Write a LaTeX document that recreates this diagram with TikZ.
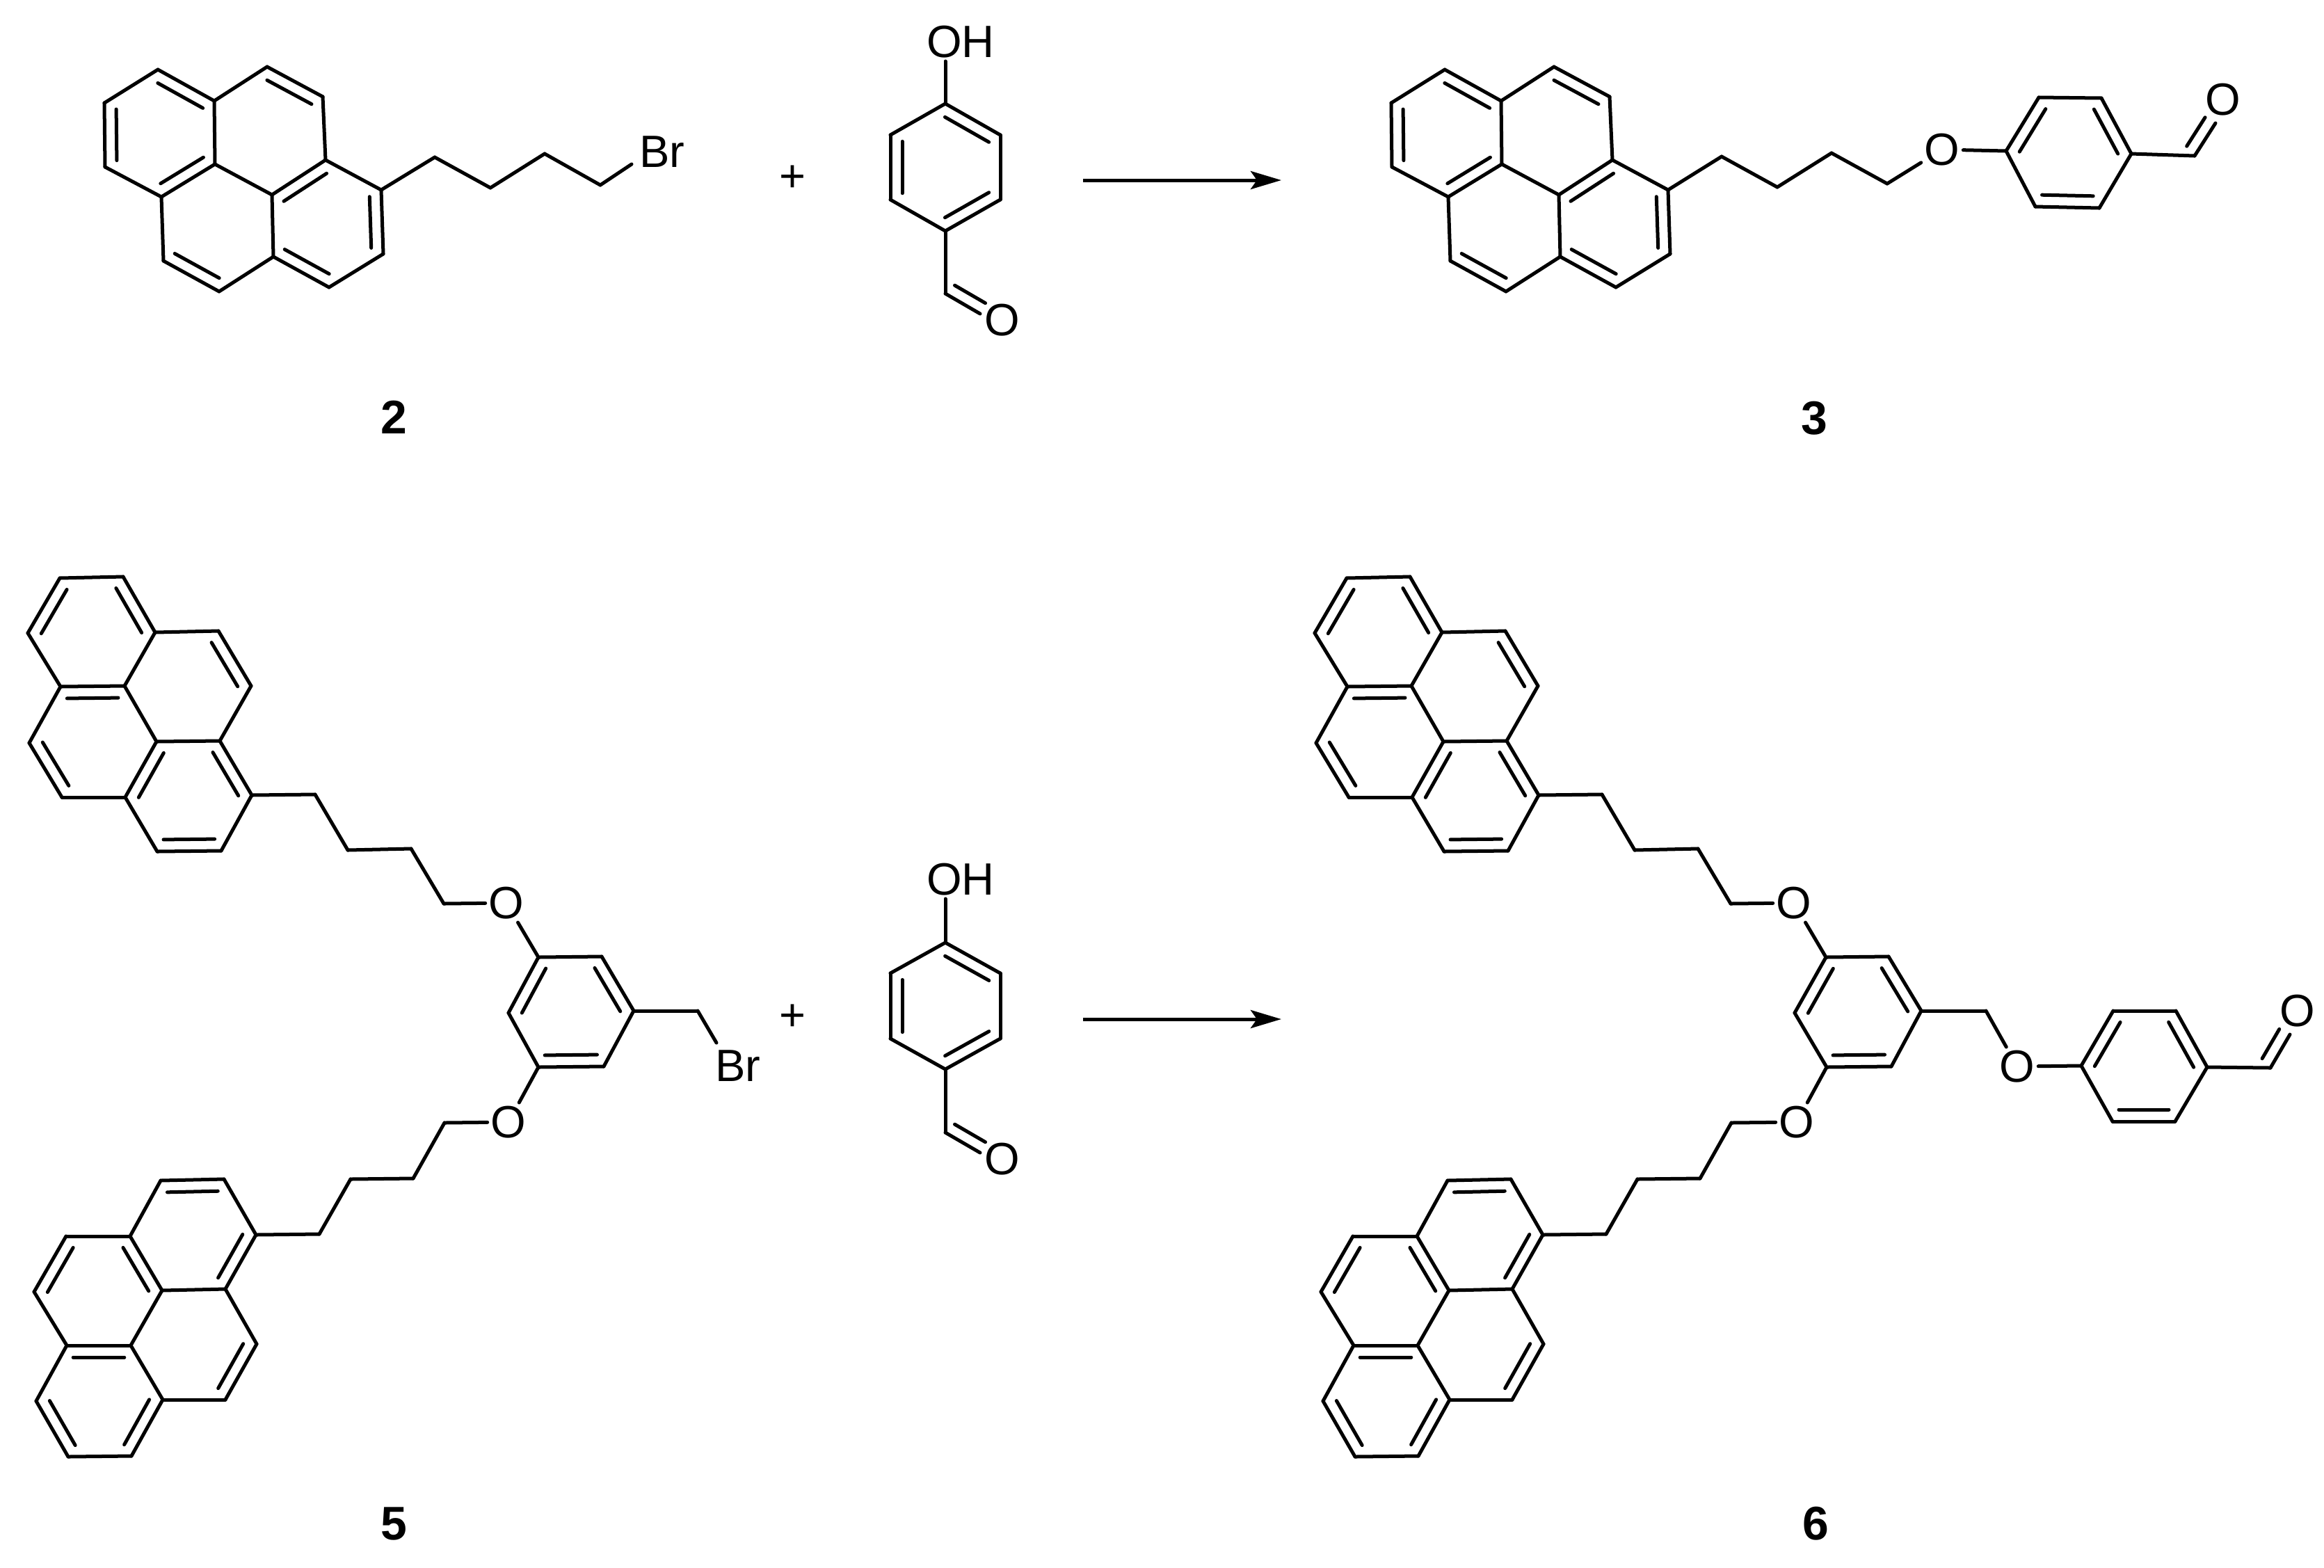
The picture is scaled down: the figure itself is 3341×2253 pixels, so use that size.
\documentclass[tikz,border=0pt]{standalone}
\usepackage{fontspec}
\setmainfont{Liberation Sans}
\usepackage{xcolor}
\usepackage{tikz}
\usetikzlibrary{calc}
\usetikzlibrary{arrows.meta}
\tikzstyle{Atom}=[inner sep=0pt,outer sep=0pt,minimum size=0pt]
\tikzstyle{Edge}=[draw=black,line cap=round,line width=0.05cm]
\tikzstyle{NodeAt}=[inner sep=0.05cm,outer sep=0pt,font=\fontsize{18.5}{20}\selectfont]
\tikzstyle{NodeNum}=[inner sep=0pt,font=\fontsize{19.3}{21}\selectfont\bfseries]
\newcommand{\InBond}[3][.9]{\draw[Edge]($(#2)!.1!(#3)!0.17cm!90:(#3)$)--($(#2)!#1!(#3)!0.17cm!90:(#3)$);}
\newcommand{\PyreneEdges}[1]{
            \draw[Edge](#1a)--(#1b);
            \draw[Edge](#1a)--(#1e);
            \draw[Edge](#1b)--(#1c);
            \draw[Edge](#1c)--(#1d);
            \draw[Edge](#1d)--(#1f);
            \draw[Edge](#1d)--(#1p);
            \draw[Edge](#1e)--(#1f);
            \draw[Edge](#1e)--(#1g);
            \draw[Edge](#1f)--(#1j);
            \draw[Edge](#1g)--(#1h);
            \draw[Edge](#1h)--(#1i);
            \draw[Edge](#1i)--(#1j);
            \draw[Edge](#1i)--(#1k);
            \draw[Edge](#1j)--(#1n);
            \draw[Edge](#1k)--(#1l);
            \draw[Edge](#1l)--(#1m);
            \draw[Edge](#1m)--(#1n);
            \draw[Edge](#1n)--(#1o);
            \draw[Edge](#1o)--(#1p);
}
\begin{document}
\begin{tikzpicture}[x=.01cm,y=-.01cm]
            \useasboundingbox(0,0)rectangle(3341,2253);
            % compound 2
            \node[Atom](2a)at(227,100){};
            \node[Atom](2b)at(150,148){};
            \node[Atom](2c)at(151,240){};
            \node[Atom](2d)at(232,283){};
            \node[Atom](2e)at(308,145){};
            \node[Atom](2f)at(309,236){};
            \node[Atom](2g)at(384,96){};
            \node[Atom](2h)at(464,139){};
            \node[Atom](2i)at(468,230){};
            \node[Atom](2j)at(391,280){};
            \node[Atom](2k)at(548,273){};
            \node[Atom](2l)at(551,365){};
            \node[Atom](2m)at(473,413){};
            \node[Atom](2n)at(393,369){};
            \node[Atom](2o)at(315,419){};
            \node[Atom](2p)at(235,375){};
            \PyreneEdges{2}
            \InBond{2e}{2a}
            \InBond{2b}{2c}
            \InBond{2d}{2f}
            \InBond{2h}{2g}
            \InBond{2i}{2j}
            \InBond{2n}{2m}
            \InBond{2l}{2k}
            \InBond{2p}{2o}
            \node[Atom](2s1)at(625,226){};
            \node[Atom](2s2)at(705,270){};
            \node[Atom](2s3)at(783,221){};
            \node[Atom](2s4)at(863,266){};
            \node[Atom](2x)at(908,236){};
            \node[NodeAt](2Br)at(952,218){Br};
            \draw[Edge](2k)--(2s1);
            \draw[Edge](2s1)--(2s2);
            \draw[Edge](2s2)--(2s3);
            \draw[Edge](2s3)--(2s4);
            \draw[Edge](2s4)--(2x);
            \node[NodeNum](n2)at(566,600){2};
            % phenol, first row
            \node[NodeAt](p1OH)at(1381,60){OH};
            \node[Atom](p1a)at(1359,149){};
            \node[Atom](p1b)at(1280,194){};
            \node[Atom](p1c)at(1280,287){};
            \node[Atom](p1d)at(1359,332){};
            \node[Atom](p1e)at(1438,287){};
            \node[Atom](p1f)at(1438,194){};
            \node[Atom](p1g)at(1359,422){};
            \node[Atom](p1x)at(1409,451){};
            \node[NodeAt](p1O)at(1441,460){O};
            \draw[Edge](p1a|-p1OH.south)--(p1a);
            \draw[Edge](p1a)--(p1b);
            \draw[Edge](p1b)--(p1c);
            \draw[Edge](p1c)--(p1d);
            \draw[Edge](p1d)--(p1e);
            \draw[Edge](p1e)--(p1f);
            \draw[Edge](p1f)--(p1a);
            \draw[Edge](p1d)--(p1g);
            \draw[Edge](p1g)--(p1x);
            \InBond{p1f}{p1a}
            \InBond{p1b}{p1c}
            \InBond{p1d}{p1e}
            \InBond[.98]{p1g}{p1x}
            \node[NodeAt](pl1)at(1139,257){+};
            \node[Atom](ar1)at(1557,259){};
            \node[Atom](ar2)at(1842,259){};
            \draw[Edge,line cap=butt,-{Stealth[length=0.44cm,width=0.26cm,inset=0.09cm]}](ar1)--(ar2);
            % compound 3
            \node[Atom](3a)at(2077,100){};
            \node[Atom](3b)at(2000,148){};
            \node[Atom](3c)at(2001,240){};
            \node[Atom](3d)at(2082,283){};
            \node[Atom](3e)at(2158,145){};
            \node[Atom](3f)at(2159,236){};
            \node[Atom](3g)at(2234,96){};
            \node[Atom](3h)at(2314,139){};
            \node[Atom](3i)at(2318,230){};
            \node[Atom](3j)at(2241,280){};
            \node[Atom](3k)at(2398,273){};
            \node[Atom](3l)at(2401,365){};
            \node[Atom](3m)at(2323,413){};
            \node[Atom](3n)at(2243,369){};
            \node[Atom](3o)at(2165,419){};
            \node[Atom](3p)at(2085,375){};
            \PyreneEdges{3}
            \InBond{3e}{3a}
            \InBond{3b}{3c}
            \InBond{3d}{3f}
            \InBond{3h}{3g}
            \InBond{3i}{3j}
            \InBond{3n}{3m}
            \InBond{3l}{3k}
            \InBond{3p}{3o}
            \node[Atom](3s1)at(2475,225){};
            \node[Atom](3s2)at(2555,269){};
            \node[Atom](3s3)at(2633,220){};
            \node[Atom](3s4)at(2713,264){};
            \node[NodeAt](3O1)at(2792,215){O};
            \node[Atom](3r1)at(2884,217){};
            \node[Atom](3r2)at(2931,140){};
            \node[Atom](3r3)at(3021,141){};
            \node[Atom](3r4)at(3064,221){};
            \node[Atom](3r5)at(3018,299){};
            \node[Atom](3r6)at(2926,297){};
            \node[Atom](3g1)at(3155,224){};
            \node[Atom](3x)at(3185,177){};
            \node[NodeAt](3O2)at(3196,143){O};
            \draw[Edge](3k)--(3s1);
            \draw[Edge](3s1)--(3s2);
            \draw[Edge](3s2)--(3s3);
            \draw[Edge](3s3)--(3s4);
            \draw[Edge](3s4)--(3O1);
            \draw[Edge](3O1)--(3r1);
            \draw[Edge](3r1)--(3r2);
            \draw[Edge](3r2)--(3r3);
            \draw[Edge](3r3)--(3r4);
            \draw[Edge](3r4)--(3r5);
            \draw[Edge](3r5)--(3r6);
            \draw[Edge](3r6)--(3r1);
            \draw[Edge](3r4)--(3g1);
            \draw[Edge](3g1)--(3x);
            \InBond{3r2}{3r1}
            \InBond{3r4}{3r3}
            \InBond{3r6}{3r5}
            \InBond[.98]{3g1}{3x}
            \node[NodeNum](n3)at(2608,601){3};
            % compound 5
            \node[Atom](5ua)at(177,829){};
            \node[Atom](5ub)at(86,831){};
            \node[Atom](5uc)at(40,910){};
            \node[Atom](5ud)at(87,987){};
            \node[Atom](5ue)at(223,909){};
            \node[Atom](5uf)at(179,986){};
            \node[Atom](5ug)at(314,907){};
            \node[Atom](5uh)at(361,986){};
            \node[Atom](5ui)at(316,1065){};
            \node[Atom](5uj)at(225,1066){};
            \node[Atom](5uk)at(362,1143){};
            \node[Atom](5ul)at(318,1223){};
            \node[Atom](5um)at(226,1224){};
            \node[Atom](5un)at(180,1146){};
            \node[Atom](5uo)at(89,1146){};
            \node[Atom](5up)at(42,1068){};
            \PyreneEdges{5u}
            \InBond{5ub}{5uc}
            \InBond{5ue}{5ua}
            \InBond{5uh}{5ug}
            \InBond{5uf}{5ud}
            \InBond{5up}{5uo}
            \InBond{5uj}{5un}
            \InBond{5uk}{5ui}
            \InBond{5um}{5ul}
            \node[Atom](5la)at(189,2093){};
            \node[Atom](5lb)at(98,2094){};
            \node[Atom](5lc)at(52,2014){};
            \node[Atom](5ld)at(96,1934){};
            \node[Atom](5le)at(234,2012){};
            \node[Atom](5lf)at(188,1934){};
            \node[Atom](5lg)at(324,2012){};
            \node[Atom](5lh)at(369,1932){};
            \node[Atom](5li)at(324,1853){};
            \node[Atom](5lj)at(233,1855){};
            \node[Atom](5lk)at(368,1775){};
            \node[Atom](5ll)at(322,1695){};
            \node[Atom](5lm)at(231,1697){};
            \node[Atom](5ln)at(187,1777){};
            \node[Atom](5lo)at(95,1777){};
            \node[Atom](5lp)at(49,1857){};
            \PyreneEdges{5l}
            \InBond{5ll}{5lm}
            \InBond{5lo}{5lp}
            \InBond{5lj}{5ln}
            \InBond{5li}{5lk}
            \InBond{5lf}{5ld}
            \InBond{5lg}{5lh}
            \InBond{5lc}{5lb}
            \InBond{5la}{5le}
            \node[Atom](5us1)at(453,1142){};
            \node[Atom](5us2)at(500,1222){};
            \node[Atom](5us3)at(591,1220){};
            \node[Atom](5us4)at(638,1299){};
            \node[NodeAt](5uO)at(728,1298){O};
            \node[Atom](5ls1)at(459,1774){};
            \node[Atom](5ls2)at(504,1695){};
            \node[Atom](5ls3)at(594,1694){};
            \node[Atom](5ls4)at(639,1614){};
            \node[NodeAt](5lO)at(731,1613){O};
            \node[Atom](5c1)at(774,1376){};
            \node[Atom](5c2)at(865,1375){};
            \node[Atom](5c3)at(911,1453){};
            \node[Atom](5c4)at(868,1533){};
            \node[Atom](5c5)at(774,1534){};
            \node[Atom](5c6)at(731,1456){};
            \node[Atom](5g)at(1003,1453){};
            \node[Atom](5x)at(1030,1499){};
            \node[NodeAt](5Br)at(1061,1532){Br};
            \draw[Edge](5uk)--(5us1);
            \draw[Edge](5us1)--(5us2);
            \draw[Edge](5us2)--(5us3);
            \draw[Edge](5us3)--(5us4);
            \draw[Edge](5us4)--(5uO);
            \draw[Edge](5uO)--(5c1);
            \draw[Edge](5lk)--(5ls1);
            \draw[Edge](5ls1)--(5ls2);
            \draw[Edge](5ls2)--(5ls3);
            \draw[Edge](5ls3)--(5ls4);
            \draw[Edge](5ls4)--(5lO);
            \draw[Edge](5lO)--(5c5);
            \draw[Edge](5c1)--(5c2);
            \draw[Edge](5c2)--(5c3);
            \draw[Edge](5c3)--(5c4);
            \draw[Edge](5c4)--(5c5);
            \draw[Edge](5c5)--(5c6);
            \draw[Edge](5c6)--(5c1);
            \draw[Edge](5c3)--(5g);
            \draw[Edge](5g)--(5x);
            \InBond{5c1}{5c6}
            \InBond{5c3}{5c2}
            \InBond{5c5}{5c4}
            \node[NodeNum](n5)at(566,2190){5};
            % phenol, second row
            \node[NodeAt](p2OH)at(1381,1264){OH};
            \node[Atom](p2a)at(1359,1355){};
            \node[Atom](p2b)at(1280,1399){};
            \node[Atom](p2c)at(1280,1493){};
            \node[Atom](p2d)at(1359,1537){};
            \node[Atom](p2e)at(1438,1493){};
            \node[Atom](p2f)at(1438,1399){};
            \node[Atom](p2g)at(1359,1628){};
            \node[Atom](p2x)at(1409,1657){};
            \node[NodeAt](p2O)at(1441,1666){O};
            \draw[Edge](p2a|-p2OH.south)--(p2a);
            \draw[Edge](p2a)--(p2b);
            \draw[Edge](p2b)--(p2c);
            \draw[Edge](p2c)--(p2d);
            \draw[Edge](p2d)--(p2e);
            \draw[Edge](p2e)--(p2f);
            \draw[Edge](p2f)--(p2a);
            \draw[Edge](p2d)--(p2g);
            \draw[Edge](p2g)--(p2x);
            \InBond{p2f}{p2a}
            \InBond{p2b}{p2c}
            \InBond{p2d}{p2e}
            \InBond[.98]{p2g}{p2x}
            \node[NodeAt](pl2)at(1139,1463){+};
            \node[Atom](ar3)at(1557,1465){};
            \node[Atom](ar4)at(1842,1465){};
            \draw[Edge,line cap=butt,-{Stealth[length=0.44cm,width=0.26cm,inset=0.09cm]}](ar3)--(ar4);
            % compound 6
            \node[Atom](6ua)at(2027,829){};
            \node[Atom](6ub)at(1936,831){};
            \node[Atom](6uc)at(1890,910){};
            \node[Atom](6ud)at(1937,987){};
            \node[Atom](6ue)at(2073,909){};
            \node[Atom](6uf)at(2029,986){};
            \node[Atom](6ug)at(2164,907){};
            \node[Atom](6uh)at(2211,986){};
            \node[Atom](6ui)at(2166,1065){};
            \node[Atom](6uj)at(2075,1066){};
            \node[Atom](6uk)at(2212,1143){};
            \node[Atom](6ul)at(2168,1223){};
            \node[Atom](6um)at(2076,1224){};
            \node[Atom](6un)at(2030,1146){};
            \node[Atom](6uo)at(1939,1146){};
            \node[Atom](6up)at(1892,1068){};
            \PyreneEdges{6u}
            \InBond{6ub}{6uc}
            \InBond{6ue}{6ua}
            \InBond{6uh}{6ug}
            \InBond{6uf}{6ud}
            \InBond{6up}{6uo}
            \InBond{6uj}{6un}
            \InBond{6uk}{6ui}
            \InBond{6um}{6ul}
            \node[Atom](6la)at(2039,2093){};
            \node[Atom](6lb)at(1948,2094){};
            \node[Atom](6lc)at(1902,2014){};
            \node[Atom](6ld)at(1946,1934){};
            \node[Atom](6le)at(2084,2012){};
            \node[Atom](6lf)at(2038,1934){};
            \node[Atom](6lg)at(2174,2012){};
            \node[Atom](6lh)at(2219,1932){};
            \node[Atom](6li)at(2174,1853){};
            \node[Atom](6lj)at(2083,1855){};
            \node[Atom](6lk)at(2218,1775){};
            \node[Atom](6ll)at(2172,1695){};
            \node[Atom](6lm)at(2081,1697){};
            \node[Atom](6ln)at(2037,1777){};
            \node[Atom](6lo)at(1945,1777){};
            \node[Atom](6lp)at(1899,1857){};
            \PyreneEdges{6l}
            \InBond{6ll}{6lm}
            \InBond{6lo}{6lp}
            \InBond{6lj}{6ln}
            \InBond{6li}{6lk}
            \InBond{6lf}{6ld}
            \InBond{6lg}{6lh}
            \InBond{6lc}{6lb}
            \InBond{6la}{6le}
            \node[Atom](6us1)at(2303,1142){};
            \node[Atom](6us2)at(2350,1222){};
            \node[Atom](6us3)at(2441,1220){};
            \node[Atom](6us4)at(2488,1299){};
            \node[NodeAt](6uO)at(2579,1298){O};
            \node[Atom](6ls1)at(2309,1774){};
            \node[Atom](6ls2)at(2354,1695){};
            \node[Atom](6ls3)at(2444,1694){};
            \node[Atom](6ls4)at(2489,1614){};
            \node[NodeAt](6lO)at(2583,1613){O};
            \node[Atom](6c1)at(2625,1376){};
            \node[Atom](6c2)at(2715,1375){};
            \node[Atom](6c3)at(2762,1453){};
            \node[Atom](6c4)at(2719,1533){};
            \node[Atom](6c5)at(2626,1534){};
            \node[Atom](6c6)at(2580,1456){};
            \node[Atom](6g1)at(2855,1453){};
            \node[NodeAt](6O1)at(2900,1533){O};
            \node[Atom](6r1)at(2992,1532){};
            \node[Atom](6r2)at(3038,1453){};
            \node[Atom](6r3)at(3128,1453){};
            \node[Atom](6r4)at(3173,1534){};
            \node[Atom](6r5)at(3127,1612){};
            \node[Atom](6r6)at(3037,1612){};
            \node[Atom](6g2)at(3264,1535){};
            \node[Atom](6x)at(3292,1487){};
            \node[NodeAt](6O2)at(3303,1453){O};
            \draw[Edge](6uk)--(6us1);
            \draw[Edge](6us1)--(6us2);
            \draw[Edge](6us2)--(6us3);
            \draw[Edge](6us3)--(6us4);
            \draw[Edge](6us4)--(6uO);
            \draw[Edge](6uO)--(6c1);
            \draw[Edge](6lk)--(6ls1);
            \draw[Edge](6ls1)--(6ls2);
            \draw[Edge](6ls2)--(6ls3);
            \draw[Edge](6ls3)--(6ls4);
            \draw[Edge](6ls4)--(6lO);
            \draw[Edge](6lO)--(6c5);
            \draw[Edge](6c1)--(6c2);
            \draw[Edge](6c2)--(6c3);
            \draw[Edge](6c3)--(6c4);
            \draw[Edge](6c4)--(6c5);
            \draw[Edge](6c5)--(6c6);
            \draw[Edge](6c6)--(6c1);
            \draw[Edge](6c3)--(6g1);
            \draw[Edge](6g1)--(6O1);
            \draw[Edge](6O1)--(6r1);
            \draw[Edge](6r1)--(6r2);
            \draw[Edge](6r2)--(6r3);
            \draw[Edge](6r3)--(6r4);
            \draw[Edge](6r4)--(6r5);
            \draw[Edge](6r5)--(6r6);
            \draw[Edge](6r6)--(6r1);
            \draw[Edge](6r4)--(6g2);
            \draw[Edge](6g2)--(6x);
            \InBond{6c1}{6c6}
            \InBond{6c3}{6c2}
            \InBond{6c5}{6c4}
            \InBond{6r2}{6r1}
            \InBond{6r4}{6r3}
            \InBond{6r6}{6r5}
            \InBond[.98]{6g2}{6x}
            \node[NodeNum](n6)at(2610,2190){6};
        \end{tikzpicture}
\end{document}
